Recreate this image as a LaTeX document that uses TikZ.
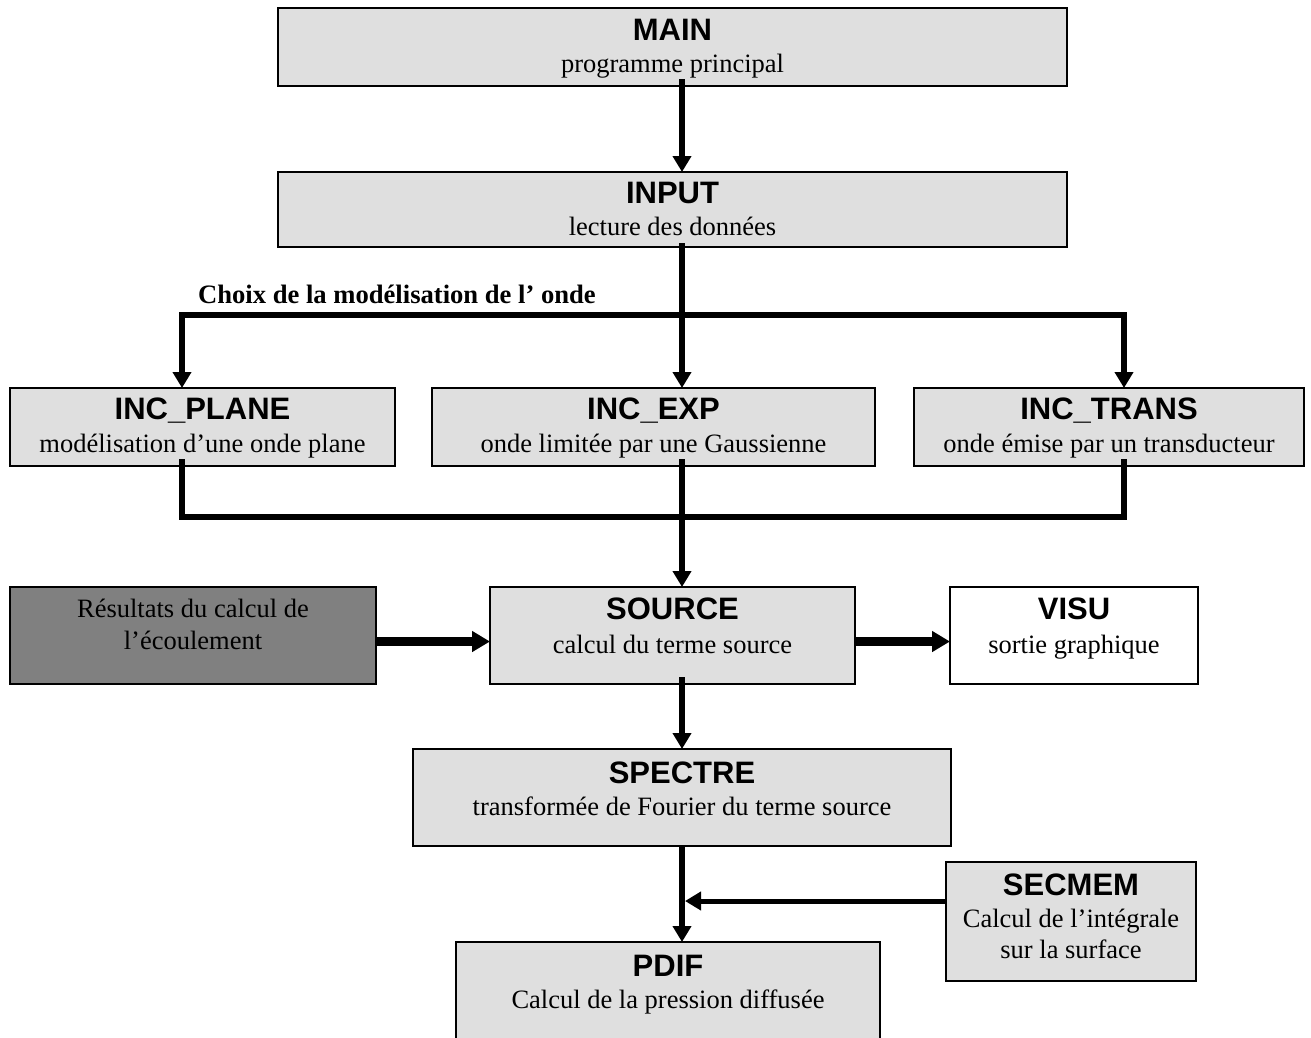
\documentclass[tikz,border=0pt]{standalone}
\usepackage{fontspec}
\setmainfont{Liberation Serif}
\setsansfont{Liberation Sans}
\usetikzlibrary{arrows.meta,calc}
\definecolor{boxgray}{HTML}{DFDFDF}
\definecolor{darkbox}{HTML}{808080}
\begin{document}
\begin{tikzpicture}[x=1pt,y=-1pt,
  box/.style={draw=black,line width=1.8pt,fill=boxgray,inner sep=0pt,outer sep=0pt,anchor=north west},
  ttl/.style={font=\sffamily\bfseries\fontsize{31}{36}\selectfont,anchor=base,inner sep=0pt},
  sub/.style={font=\fontsize{26.5}{32}\selectfont,anchor=base,inner sep=0pt},
  conn/.style={line width=5.5pt,line join=miter,draw=black},
  tip/.style={-{Triangle[length=16pt,width=18pt]}},
  bigconn/.style={line width=9pt,draw=black,-{Triangle[length=18pt,width=20pt]}}]
\useasboundingbox (0,0) rectangle (1311,1037);
\clip (0,0) rectangle (1311,1037);
% boxes
\node[box,minimum width=789,minimum height=78] (main) at (278,8) {};
\node[box,minimum width=789,minimum height=75] (input) at (278,172) {};
\node[box,minimum width=385,minimum height=78] (plane) at (10,388) {};
\node[box,minimum width=443,minimum height=78] (iexp) at (432,388) {};
\node[box,minimum width=390,minimum height=78] (itrans) at (914,388) {};
\node[box,fill=darkbox,minimum width=366,minimum height=97] (res) at (10,587) {};
\node[box,minimum width=365,minimum height=97] (source) at (490,587) {};
\node[box,fill=white,minimum width=248,minimum height=97] (visu) at (950,587) {};
\node[box,minimum width=538,minimum height=97] (spectre) at (413,749) {};
\node[box,minimum width=250,minimum height=119] (secmem) at (946,862) {};
\node[box,minimum width=424,minimum height=130] (pdif) at (456,942) {};
% texts
\node[ttl] (mainT) at (672.5,40) {MAIN};
\node[sub] (mainS) at (672.5,72) {programme principal};
\node[ttl] (inputT) at (672.5,203) {INPUT};
\node[sub] (inputS) at (672.5,235) {lecture des données};
\node[font=\bfseries\fontsize{26.6}{31}\selectfont,anchor=base west,inner sep=0pt] (choix) at (198,303) {Choix de la modélisation de l’ onde};
\node[ttl] (planeT) at (202.5,419) {INC\_PLANE};
\node[sub] (planeS) at (202.5,452) {modélisation d’une onde plane};
\node[ttl] (iexpT) at (653.5,419) {INC\_EXP};
\node[sub] (iexpS) at (653.5,452) {onde limitée par une Gaussienne};
\node[ttl] (itransT) at (1109,419) {INC\_TRANS};
\node[sub] (itransS) at (1109,452) {onde émise par un transducteur};
\node[sub] (resA) at (193,617) {Résultats du calcul de};
\node[sub] (resB) at (193,649) {l’écoulement};
\node[ttl] (sourceT) at (672.5,619) {SOURCE};
\node[sub] (sourceS) at (672.5,653) {calcul du terme source};
\node[ttl] (visuT) at (1074,619) {VISU};
\node[sub] (visuS) at (1074,653) {sortie graphique};
\node[ttl] (spectreT) at (682,783) {SPECTRE};
\node[sub] (spectreS) at (682,815) {transformée de Fourier du terme source};
\node[ttl] (secmemT) at (1071,895) {SECMEM};
\node[sub] (secmemA) at (1071,927) {Calcul de l’intégrale};
\node[sub] (secmemB) at (1071,958) {sur la surface};
\node[ttl] (pdifT) at (668,976) {PDIF};
\node[sub] (pdifS) at (668,1008) {Calcul de la pression diffusée};
% connector coordinates
\coordinate (spine) at (682,0);
\coordinate (lx) at (182,315);
\coordinate (rx) at (1124,315);
\coordinate (lx2) at (182,517);
\coordinate (rx2) at (1124,517);
\coordinate (secin) at (682,901);
% connectors
\draw[conn,tip] ($(main.south -| spine)+(0,-7)$) -- (input.north -| spine);
\draw[conn,tip] ($(input.south -| spine)+(0,-4)$) -- (iexp.north -| spine);
\draw[conn,{Triangle[length=16pt,width=18pt]}-{Triangle[length=16pt,width=18pt]}]
  (plane.north -| lx) -- (lx) -- (rx) -- (itrans.north -| rx);
\draw[conn] ($(plane.south -| lx)+(0,-7)$) -- (lx2) -- (rx2) -- ($(itrans.south -| rx)+(0,-7)$);
\draw[conn,tip] ($(iexp.south -| spine)+(0,-7)$) -- (source.north -| spine);
\draw[bigconn] ($(res.east)+(0,6)$) -- ($(source.west)+(0,6)$);
\draw[bigconn] ($(source.east)+(0,6)$) -- ($(visu.west)+(0,6)$);
\draw[conn,tip] ($(source.south -| spine)+(0,-7)$) -- (spectre.north -| spine);
\draw[conn,tip] (spectre.south -| spine) -- (pdif.north -| spine);
\draw[line width=5pt,tip] (secmem.west |- secin) -- ($(secin)+(3,0)$);
\end{tikzpicture}
\end{document}
